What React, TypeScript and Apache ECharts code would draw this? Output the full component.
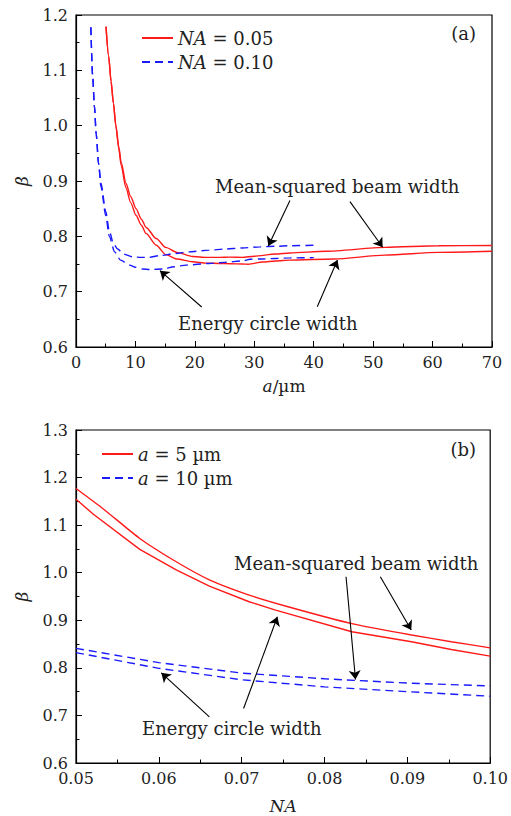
import React, { useEffect, useRef } from "react";
import * as echarts from "echarts";

// ---- Panel (a): beta vs a (µm) ----
const aRedMS = [5.05, 5.5, 5.9, 6.3, 6.7, 7.2, 7.6, 8.4, 9.2, 10.1, 11, 11.8, 13.5, 15.1, 17, 19.6, 22, 24.1, 26, 28, 30, 33.6, 36, 42, 52, 61, 70];
const betaRedMS = [1.179, 1.125, 1.08, 1.04, 1.001, 0.962, 0.934, 0.896, 0.872, 0.85, 0.831, 0.816, 0.796, 0.78, 0.771, 0.7635, 0.762, 0.762, 0.7625, 0.762, 0.764, 0.768, 0.77, 0.773, 0.78, 0.783, 0.7835];
const aRedEC = [5.05, 5.5, 5.9, 6.3, 6.7, 7.2, 7.6, 8.4, 9.2, 10.1, 11, 11.8, 13.5, 15.1, 17, 19.6, 22, 24.1, 26, 28, 29, 31.4, 33.6, 36, 43.4, 52, 61, 70];
const betaRedEC = [1.179, 1.125, 1.08, 1.04, 1.0, 0.958, 0.928, 0.888, 0.861, 0.838, 0.82, 0.805, 0.784, 0.767, 0.759, 0.754, 0.7515, 0.751, 0.7505, 0.75, 0.7495, 0.7535, 0.7555, 0.757, 0.759, 0.766, 0.771, 0.773];
const aBlueMS = [2.5, 2.8, 3.1, 3.4, 3.8, 4.2, 5.0, 5.6, 6.3, 7.0, 8.0, 9.5, 11, 12.3, 14, 16.8, 19, 22.4, 25, 28, 31, 33.6, 36, 40];
const betaBlueMS = [1.178, 1.09, 1.035, 0.985, 0.932, 0.896, 0.845, 0.81, 0.787, 0.777, 0.768, 0.763, 0.762, 0.762, 0.765, 0.769, 0.772, 0.775, 0.777, 0.779, 0.781, 0.782, 0.783, 0.784];
const aBlueEC = [2.5, 2.8, 3.1, 3.4, 3.8, 4.2, 5.0, 5.6, 6.5, 7.5, 9.0, 10, 11.2, 12.5, 14.6, 16.5, 18.5, 22.4, 25, 28, 29.3, 31, 33.6, 36, 40];
const betaBlueEC = [1.178, 1.09, 1.035, 0.985, 0.93, 0.89, 0.838, 0.8, 0.772, 0.757, 0.748, 0.744, 0.741, 0.74, 0.741, 0.745, 0.748, 0.751, 0.753, 0.7555, 0.7586, 0.759, 0.76, 0.761, 0.7615];

// ---- Panel (b): beta vs NA ----
const naRedMS = [0.05, 0.0533, 0.0577, 0.0621, 0.0661, 0.0709, 0.0757, 0.0833, 0.0905, 0.0953, 0.1];
const betaNaRedMS = [1.177, 1.134, 1.072, 1.023, 0.985, 0.953, 0.928, 0.893, 0.869, 0.855, 0.842];
const naRedEC = [0.05, 0.0521, 0.0577, 0.0621, 0.0661, 0.0709, 0.0741, 0.0833, 0.0905, 0.0953, 0.1];
const betaNaRedEC = [1.1545, 1.123, 1.049, 1.006, 0.972, 0.939, 0.9215, 0.8758, 0.8548, 0.8387, 0.8246];
const naBlue = [0.05, 0.06, 0.07, 0.08, 0.09, 0.1];
const betaNaBlueMS = [0.841, 0.811, 0.789, 0.777, 0.768, 0.762];
const betaNaBlueEC = [0.832, 0.799, 0.775, 0.76, 0.75, 0.7404];

// ---- Annotation arrows (data coordinates: [from], [to]) ----
const arrowsA = [
  [[36.0, 0.8646], [32.36, 0.7826]],
  [[46.1, 0.8628], [51.6, 0.7803]],
  [[21.15, 0.6723], [14.13, 0.738]],
  [[40.6, 0.6729], [44.0, 0.7573]],
];
const arrowsB = [
  [[0.0826, 0.9916], [0.08374, 0.7756]],
  [[0.08674, 0.9916], [0.09047, 0.8794]],
  [[0.0661, 0.6968], [0.0603, 0.7895]],
  [[0.07023, 0.7145], [0.07431, 0.9074]],
];

const FONT = '"DejaVu Serif", serif';
const RED = "#ff1a1a";
const BLUE = "#1a1aff";

const zip = (xs: number[], ys: number[]) => xs.map((x, i) => [x, ys[i]]);

export default function App() {
  const ref = useRef<HTMLDivElement>(null);
  useEffect(() => {
    document.body.style.margin = "0";
    const chart = echarts.init(ref.current!, null, { renderer: "svg" });

    const tickCommon = {
      axisLine: { show: true, lineStyle: { color: "#000", width: 1.2 } },
      axisTick: { show: true, inside: true, length: 6, lineStyle: { color: "#000", width: 1 } },
      minorTick: { show: true, splitNumber: 2, length: 3.5, lineStyle: { color: "#000", width: 1 } },
      splitLine: { show: false },
      axisLabel: { color: "#222", fontFamily: FONT, fontSize: 16 },
      nameTextStyle: { color: "#222", fontFamily: FONT, fontSize: 17, fontStyle: "italic" },
    };

    const arrowLine = (arr: number[][][]) => ({
      silent: true,
      animation: false,
      symbol: ["none", "arrow"],
      symbolSize: 9,
      lineStyle: { color: "#000", width: 1.1, type: "solid" },
      label: { show: false },
      emphasis: { disabled: true },
      data: arr.map(([f, t]) => [{ coord: f }, { coord: t }]),
    });

    const rich = { i: { fontStyle: "italic", fontFamily: FONT, fontSize: 18, color: "#222" } };
    const legendFmt = (name: string) => {
      if (name.startsWith("NA")) return "{i|NA} " + name.slice(3);
      return "{i|a} " + name.slice(2);
    };
    const redLine = { color: RED, width: 1.4, type: "solid" };
    const blueLine = { color: BLUE, width: 1.4, type: [8, 5] };
    const sm = { smooth: 0.25, smoothMonotone: "x" };

    const legendCommon = {
      orient: "vertical", itemWidth: 31, itemHeight: 14, itemGap: 6, selectedMode: false,
      formatter: legendFmt,
      itemStyle: { opacity: 0 },
      textStyle: { fontFamily: FONT, fontSize: 18, color: "#222", rich },
    };

    const option: any = {
      animation: false,
      grid: [
        { left: 76, top: 15, width: 416, height: 332, show: true, borderColor: "#000", borderWidth: 1.2 },
        { left: 76, top: 430, width: 416, height: 333, show: true, borderColor: "#000", borderWidth: 1.2 },
      ],
      xAxis: [
        {
          ...tickCommon, gridIndex: 0, type: "value", min: 0, max: 70, interval: 10,
          name: "{i|a}{n|/µm}", nameLocation: "middle", nameGap: 30,
          axisLabel: { ...tickCommon.axisLabel, margin: 7 },
          nameTextStyle: {
            ...tickCommon.nameTextStyle, fontStyle: "normal",
            rich: { i: { fontStyle: "italic", fontFamily: FONT, fontSize: 17, color: "#222" }, n: { fontFamily: FONT, fontSize: 17, color: "#222" } },
          },
        },
        {
          ...tickCommon, gridIndex: 1, type: "value", min: 0.05, max: 0.1, interval: 0.01,
          name: "NA", nameLocation: "middle", nameGap: 34,
          axisLabel: { ...tickCommon.axisLabel, margin: 7, formatter: (v: number) => v.toFixed(2) },
        },
      ],
      yAxis: [
        {
          ...tickCommon, gridIndex: 0, type: "value", min: 0.6, max: 1.2, interval: 0.1,
          name: "β", nameLocation: "middle", nameGap: 46,
          axisLabel: { ...tickCommon.axisLabel, margin: 8, formatter: (v: number) => v.toFixed(1) },
        },
        {
          ...tickCommon, gridIndex: 1, type: "value", min: 0.6, max: 1.3, interval: 0.1,
          name: "β", nameLocation: "middle", nameGap: 46,
          axisLabel: { ...tickCommon.axisLabel, margin: 8, formatter: (v: number) => v.toFixed(1) },
        },
      ],
      legend: [
        { ...legendCommon, left: 136, top: 24, data: ["NA = 0.05", "NA = 0.10"] },
        { ...legendCommon, left: 96, top: 440, data: ["a = 5 µm", "a = 10 µm"] },
      ],
      series: [
        { name: "NA = 0.05", type: "line", xAxisIndex: 0, yAxisIndex: 0, data: zip(aRedMS, betaRedMS), symbol: "none", ...sm, lineStyle: redLine, itemStyle: { color: RED }, markLine: arrowLine(arrowsA) },
        { name: "NA = 0.05", type: "line", xAxisIndex: 0, yAxisIndex: 0, data: zip(aRedEC, betaRedEC), symbol: "none", ...sm, lineStyle: redLine, itemStyle: { color: RED } },
        { name: "NA = 0.10", type: "line", xAxisIndex: 0, yAxisIndex: 0, data: zip(aBlueMS, betaBlueMS), symbol: "none", ...sm, lineStyle: blueLine, itemStyle: { color: BLUE } },
        { name: "NA = 0.10", type: "line", xAxisIndex: 0, yAxisIndex: 0, data: zip(aBlueEC, betaBlueEC), symbol: "none", ...sm, lineStyle: blueLine, itemStyle: { color: BLUE } },
        { name: "a = 5 µm", type: "line", xAxisIndex: 1, yAxisIndex: 1, data: zip(naRedMS, betaNaRedMS), symbol: "none", smooth: 0.2, lineStyle: redLine, itemStyle: { color: RED }, markLine: arrowLine(arrowsB) },
        { name: "a = 5 µm", type: "line", xAxisIndex: 1, yAxisIndex: 1, data: zip(naRedEC, betaNaRedEC), symbol: "none", lineStyle: redLine, itemStyle: { color: RED } },
        { name: "a = 10 µm", type: "line", xAxisIndex: 1, yAxisIndex: 1, data: zip(naBlue, betaNaBlueMS), symbol: "none", lineStyle: blueLine, itemStyle: { color: BLUE } },
        { name: "a = 10 µm", type: "line", xAxisIndex: 1, yAxisIndex: 1, data: zip(naBlue, betaNaBlueEC), symbol: "none", lineStyle: blueLine, itemStyle: { color: BLUE } },
      ],
      graphic: [
        { type: "text", x: 476, y: 33, style: { text: "(a)", font: `18px ${FONT}`, fill: "#222", align: "right", verticalAlign: "middle" } },
        { type: "text", x: 476, y: 449, style: { text: "(b)", font: `18px ${FONT}`, fill: "#222", align: "right", verticalAlign: "middle" } },
        { type: "text", x: 215, y: 186, style: { text: "Mean-squared beam width", font: `18px ${FONT}`, fill: "#222", verticalAlign: "middle" } },
        { type: "text", x: 178, y: 323, style: { text: "Energy circle width", font: `18px ${FONT}`, fill: "#222", verticalAlign: "middle" } },
        { type: "text", x: 234, y: 563, style: { text: "Mean-squared beam width", font: `18px ${FONT}`, fill: "#222", verticalAlign: "middle" } },
        { type: "text", x: 142, y: 728, style: { text: "Energy circle width", font: `18px ${FONT}`, fill: "#222", verticalAlign: "middle" } },
      ],
    };
    chart.setOption(option);
    return () => chart.dispose();
  }, []);
  return <div ref={ref} style={{ width: 511, height: 816 }} />;
}
